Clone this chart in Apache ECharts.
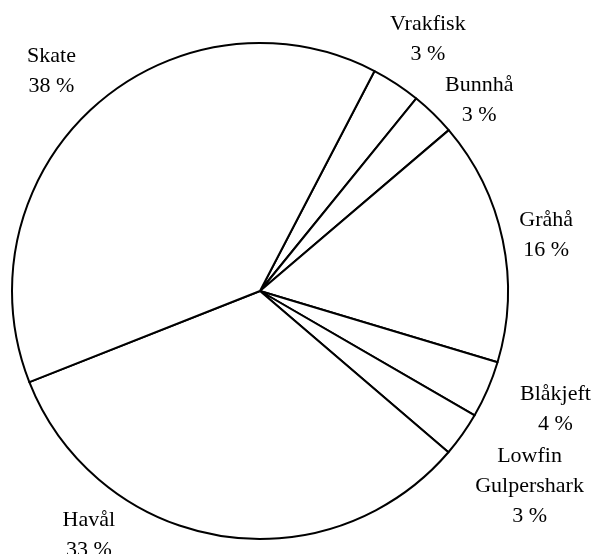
<!DOCTYPE html>
<html>
<head>
<meta charset="utf-8">
<script src="https://cdn.jsdelivr.net/npm/echarts@6/dist/echarts.min.js"></script>
<style>
  html, body { margin: 0; padding: 0; background: #fff; }
  #chart { width: 594px; height: 554px; }
</style>
</head>
<body>
<div id="chart"></div>
<script>
// slices in drawing order (clockwise from the top-right)
const names = ['Vrakfisk', 'Bunnhå', 'Gråhå', 'Blåkjeft', 'Lowfin\nGulpershark', 'Havål', 'Skate']
const shares = [3.2, 2.9, 15.8, 3.7, 2.9, 32.6, 38.45]

const CX = 260
const CY = 291
const R = 248
const START = 62.5
const GAP = 12
// small nudges so labels sit where the original put them
const labelTweak = {
  'Skate': { angle: 1, gap: 19 },
  'Bunnhå': { angle: -4, gap: 0 },
  'Blåkjeft': { angle: 2.2, gap: 25 },
  'Havål': { angle: -26, gap: 7 }
}

const total = shares.reduce((a, b) => a + b, 0)
const midAngles = []
let acc = 0
shares.forEach((v) => {
  midAngles.push(START - ((acc + v / 2) / total) * 360)
  acc += v
})

const chart = echarts.init(document.getElementById('chart'))
chart.setOption({
  backgroundColor: '#fff',
  animation: false,
  series: [
    {
      type: 'pie',
      center: [CX, CY],
      radius: [0, R],
      startAngle: START,
      clockwise: true,
      avoidLabelOverlap: false,
      data: names.map((n, i) => ({ name: n, value: shares[i] })),
      itemStyle: {
        color: '#fff',
        borderColor: '#000',
        borderWidth: 2
      },
      emphasis: { disabled: true },
      labelLine: { show: false },
      label: {
        show: true,
        position: 'outside',
        fontFamily: 'Liberation Serif',
        fontSize: 22,
        lineHeight: 30,
        color: '#000',
        align: 'center',
        formatter: (p) => p.name + '\n' + Math.round(p.value) + ' %'
      },
      labelLayout: (params) => {
        const name = names[params.dataIndex]
        const tw = labelTweak[name] || {}
        const deg = midAngles[params.dataIndex] + (tw.angle || 0)
        const gap = tw.gap !== undefined ? tw.gap : GAP
        const a = (deg * Math.PI) / 180
        const c = Math.cos(a)
        const s = Math.sin(a)
        const w = params.labelRect.width
        const h = params.labelRect.height
        const r = R + gap + Math.abs(c) * w / 2 + Math.abs(s) * h / 2
        return {
          x: CX + r * c,
          y: CY - r * s + 4,
          align: 'center',
          verticalAlign: 'middle'
        }
      }
    }
  ]
})
</script>
</body>
</html>
